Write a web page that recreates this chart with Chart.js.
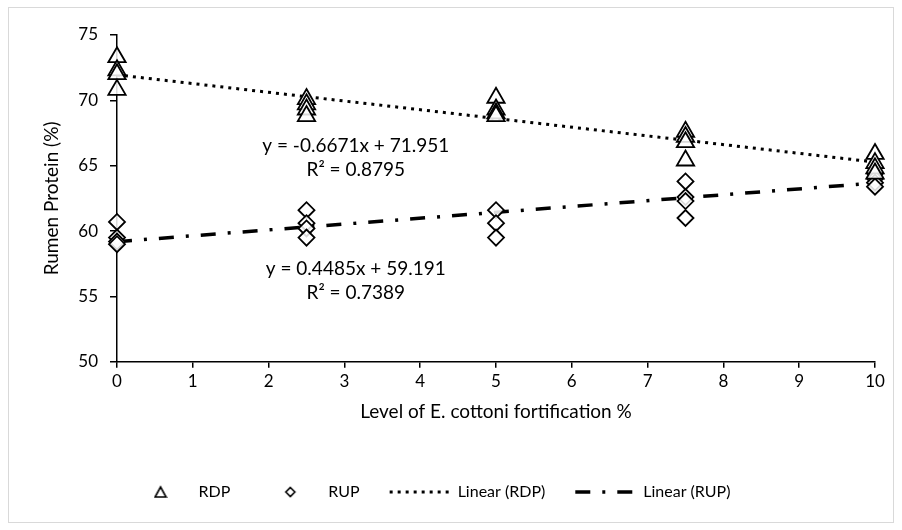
<!DOCTYPE html>
<html>
<head>
<meta charset="utf-8">
<script src="https://cdn.jsdelivr.net/npm/chart.js@4.4.0/dist/chart.umd.min.js"></script>
<style>
html, body { margin: 0; padding: 0; background: #fff; }
#wrap { position: relative; width: 902px; height: 530px; }
#frame { position: absolute; left: 8px; top: 7px; width: 884px; height: 514px; border: 1px solid #d9d9d9; }
canvas { position: absolute; left: 0; top: 0; }
</style>
</head>
<body>
<div id="wrap"><div id="frame"></div><canvas id="chart" width="902" height="530"></canvas></div>
<script>
// fortification levels (%) and the replicate readings at each level
var levels = [0, 2.5, 5, 7.5, 10];
var rdpValues = [
    [73.3, 72.3, 72.0, 70.8],
    [70.1, 69.7, 69.3, 68.8],
    [70.2, 69.3, 69.0, 68.8],
    [67.6, 67.2, 66.8, 65.4],
    [65.9, 65.2, 64.8, 64.4]
];
var rupValues = [
    [60.7, 59.5, 59.2, 59.0],
    [61.6, 60.6, 60.2, 59.5],
    [61.6, 60.6, 59.5],
    [63.8, 62.6, 62.3, 61.0],
    [64.4, 64.0, 63.7, 63.4]
];
// trend lines as printed on the chart
var rdpFit = [-0.6671, 71.951];
var rupFit = [0.4485, 59.191];
var rdpText = ["y = -0.6671x + 71.951", "R\u00b2 = 0.8795"];
var rupText = ["y = 0.4485x + 59.191", "R\u00b2 = 0.7389"];
var yTicks = [50, 55, 60, 65, 70, 75];

var FONT = "Lato, 'Open Sans', sans-serif";

function toPoints(values){
    let pts = [];
    for (let i = 0; i < levels.length; i++) {
        values[i].forEach(function(v){ pts.push({x: levels[i], y: v}); });
    }
    return pts;
}

function fitLine(fit){
    let x0 = levels[0], x1 = levels[levels.length - 1];
    return [{x: x0, y: fit[0] * x0 + fit[1]}, {x: x1, y: fit[0] * x1 + fit[1]}];
}

// small marker images for the legend so the wide line boxes don't stretch them
function legendMarker(shape){
    let c = document.createElement("canvas");
    c.width = 14; c.height = 14;
    let g = c.getContext("2d");
    g.lineWidth = 1.6;
    g.strokeStyle = "#000";
    g.fillStyle = "#fff";
    g.beginPath();
    if (shape === "triangle") {
        g.moveTo(7, 2); g.lineTo(12.5, 12); g.lineTo(1.5, 12);
    } else {
        g.moveTo(7, 2.5); g.lineTo(11.5, 7); g.lineTo(7, 11.5); g.lineTo(2.5, 7);
    }
    g.closePath();
    g.fill();
    g.stroke();
    return c;
}

// equation labels, anchored in data units
var equationPlugin = {
    id: "equations",
    afterLayout: function(chart){
        // the legend row sits a little left of centre
        chart.legend.left -= 25;
        chart.legend.right -= 25;
    },
    afterDatasetsDraw: function(chart){
        let ctx = chart.ctx;
        let xs = chart.scales.x, ys = chart.scales.y;
        ctx.save();
        ctx.font = "19px " + FONT;
        ctx.fillStyle = "#000";
        ctx.textAlign = "center";
        ctx.textBaseline = "middle";
        [[rdpText, 3.15, 66.5], [rupText, 3.15, 57.1]].forEach(function(e){
            let px = xs.getPixelForValue(e[1]);
            let py = ys.getPixelForValue(e[2]);
            ctx.fillText(e[0][0], px, py);
            ctx.fillText(e[0][1], px, py + 24);
        });
        ctx.restore();
    }
};

var legendStyle = [legendMarker("triangle"), legendMarker("diamond"), "line", "line"];

var ctx = document.getElementById("chart");
var chart = new Chart(ctx, {
    type: "scatter",
    data: {
        datasets: [
            {
                label: "RDP",
                data: toPoints(rdpValues),
                pointStyle: "triangle",
                pointRadius: 10,
                pointHoverRadius: 10,
                pointBackgroundColor: "rgba(255,255,255,0.85)",
                pointBorderColor: "#000",
                pointBorderWidth: 1.8,
                showLine: false,
                clip: false
            },
            {
                label: "RUP",
                data: toPoints(rupValues),
                pointStyle: "rectRot",
                pointRadius: 8,
                pointHoverRadius: 8,
                pointBackgroundColor: "rgba(255,255,255,0.85)",
                pointBorderColor: "#000",
                pointBorderWidth: 1.8,
                showLine: false,
                clip: false
            },
            {
                label: "Linear (RDP)",
                data: fitLine(rdpFit),
                showLine: true,
                borderColor: "#000",
                borderWidth: 3,
                borderDash: [3, 5],
                pointRadius: 0,
                fill: false,
                clip: false
            },
            {
                label: "Linear (RUP)",
                data: fitLine(rupFit),
                showLine: true,
                borderColor: "#000",
                borderWidth: 3.5,
                borderDash: [15, 12, 3, 12],
                pointRadius: 0,
                fill: false,
                clip: false
            }
        ]
    },
    options: {
        responsive: false,
        animation: false,
        layout: { padding: { left: 36, top: 35, right: 27, bottom: 20 } },
        scales: {
            x: {
                type: "linear",
                min: 0,
                max: 10,
                ticks: { stepSize: 1, color: "#000", padding: 4, font: { family: FONT, size: 17 } },
                grid: { drawOnChartArea: false, drawTicks: true, tickLength: 6, color: "#000", lineWidth: 1.5 },
                border: { color: "#000", width: 1.5 },
                title: {
                    display: true,
                    text: "Level of E. cottoni fortification %",
                    color: "#000",
                    font: { family: FONT, size: 19 },
                    padding: { top: 4, bottom: 31 }
                }
            },
            y: {
                min: 50,
                max: 75,
                afterFit: function(scale){ scale.width = 81; },
                afterBuildTicks: function(scale){ scale.ticks = yTicks.map(function(v){ return {value: v}; }); },
                ticks: { color: "#000", padding: 12, font: { family: FONT, size: 17 } },
                grid: { drawOnChartArea: false, drawTicks: true, tickLength: 7, color: "#000", lineWidth: 1.5 },
                border: { color: "#000", width: 1.5 },
                title: {
                    display: true,
                    text: "Rumen Protein (%)",
                    color: "#000",
                    font: { family: FONT, size: 19 },
                    padding: { top: 4, bottom: 4 }
                }
            }
        },
        plugins: {
            tooltip: { enabled: false },
            legend: {
                position: "bottom",
                labels: {
                    usePointStyle: true,
                    pointStyleWidth: 60,
                    boxHeight: 8,
                    padding: 30,
                    color: "#000",
                    font: { family: FONT, size: 16 },
                    generateLabels: function(chart){
                        return chart.data.datasets.map(function(ds, i){
                            return {
                                text: ds.label,
                                fillStyle: "#fff",
                                strokeStyle: "#000",
                                lineWidth: i < 2 ? 1.6 : ds.borderWidth,
                                lineDash: ds.borderDash || [],
                                lineCap: "butt",
                                pointStyle: legendStyle[i],
                                fontColor: "#000",
                                hidden: false,
                                datasetIndex: i
                            };
                        });
                    }
                }
            }
        }
    },
    plugins: [equationPlugin]
});
</script>
</body>
</html>
